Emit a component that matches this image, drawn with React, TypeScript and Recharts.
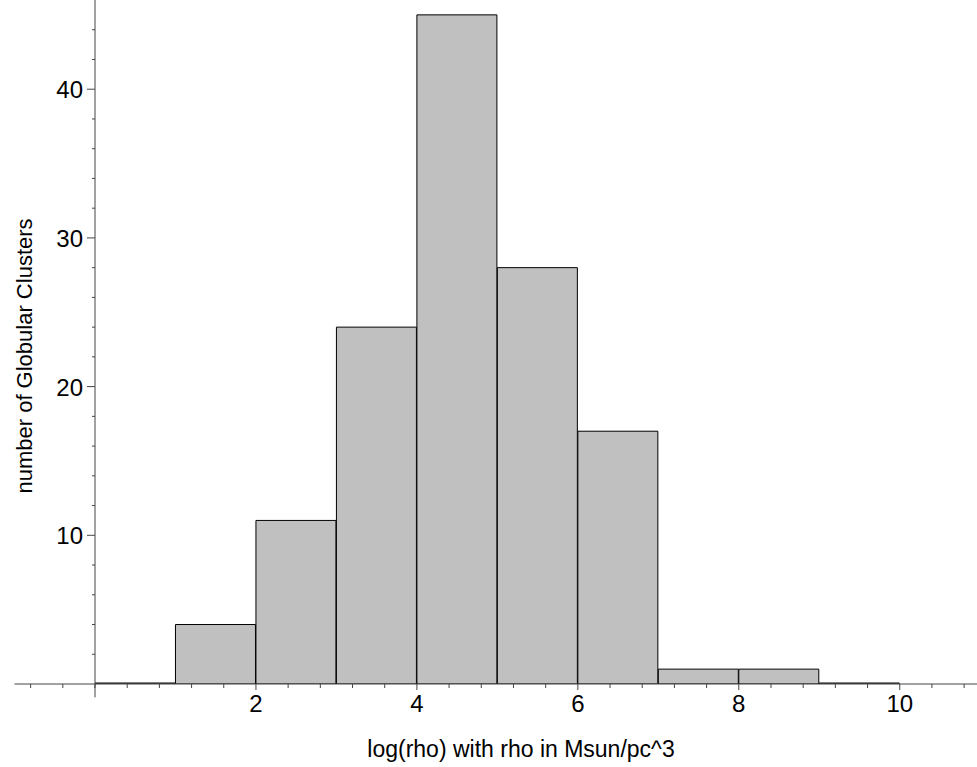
import { BarChart, Bar, XAxis, YAxis, ReferenceLine, Label } from "recharts";

// histogram bins: left edge of each bin, width 1
const BIN_START = [0, 1, 2, 3, 4, 5, 6, 7, 8, 9];
const COUNTS = [0, 4, 11, 24, 45, 28, 17, 1, 1, 0];

const X_TICKS = [
  -0.8, -0.4, 0, 0.4, 0.8, 1.2, 1.6, 2, 2.4, 2.8, 3.2, 3.6, 4, 4.4, 4.8, 5.2, 5.6, 6, 6.4, 6.8, 7.2, 7.6, 8, 8.4,
  8.8, 9.2, 9.6, 10, 10.4, 10.8,
];
const X_LABELS = [2, 4, 6, 8, 10];
const Y_TICKS = [2, 4, 6, 8, 10, 12, 14, 16, 18, 20, 22, 24, 26, 28, 30, 32, 34, 36, 38, 40, 42, 44];
const Y_LABELS = [10, 20, 30, 40];

const X_DOMAIN: [number, number] = [0, 10.96];
const X_AXIS_START = -1;
const Y_DOMAIN: [number, number] = [0, 46];
const Y_AXIS_BELOW = -0.9;

const data = BIN_START.map((s, i) => ({ x: s + 0.5, count: COUNTS[i] }));

const FONT = '"Liberation Sans", Arial, sans-serif';
const AXIS = "#444";

const isMajor = (v: number, list: number[]) => list.some((m) => Math.abs(m - v) < 1e-6);

function XTick(props: any) {
  const { x, y, payload } = props;
  const major = isMajor(payload.value, X_LABELS);
  return (
    <g>
      <line x1={x} x2={x} y1={y} y2={y + (major ? 6 : 4)} stroke={AXIS} strokeWidth={1} />
      {major && (
        <text x={x} y={y + 28} textAnchor="middle" fontSize={24} fontFamily={FONT} fill="#000">
          {payload.value}
        </text>
      )}
    </g>
  );
}

function YTick(props: any) {
  const { x, y, payload } = props;
  const major = isMajor(payload.value, Y_LABELS);
  return (
    <g>
      <line x1={x - (major ? 8 : 3)} x2={x} y1={y} y2={y} stroke={AXIS} strokeWidth={1} />
      {major && (
        <text x={x - 12} y={y + 9} textAnchor="end" fontSize={24} fontFamily={FONT} fill="#000">
          {payload.value}
        </text>
      )}
    </g>
  );
}

export default function App() {
  return (
    <div style={{ position: "absolute", left: 0, top: 0, width: 977, height: 767, background: "#fff", overflow: "hidden" }}>
      <BarChart width={977} height={767} data={data} margin={{ top: 0, right: 0, bottom: 0, left: 0 }} barCategoryGap={0}>
        <XAxis
          type="number"
          dataKey="x"
          domain={X_DOMAIN}
          allowDataOverflow
          ticks={X_TICKS}
          interval={0}
          tickSize={0}
          tickMargin={0}
          tickLine={false}
          axisLine={false}
          tick={<XTick />}
          height={83}
        >
          <Label
            content={() => (
              <text x={521} y={757} textAnchor="middle" fontSize={23} fontFamily={FONT} fill="#000">
                log(rho) with rho in Msun/pc^3
              </text>
            )}
          />
        </XAxis>
        <YAxis
          type="number"
          domain={Y_DOMAIN}
          allowDataOverflow
          ticks={Y_TICKS}
          interval={0}
          tickSize={0}
          tickMargin={0}
          tickLine={false}
          axisLine={false}
          tick={<YTick />}
          width={95}
        >
          <Label
            content={() => (
              <text
                x={24}
                y={356}
                transform="rotate(-90 24 356)"
                textAnchor="middle"
                dominantBaseline="central"
                fontSize={22}
                fontFamily={FONT}
                fill="#000"
              >
                number of Globular Clusters
              </text>
            )}
          />
        </YAxis>
        <Bar dataKey="count" fill="#c0c0c0" stroke="#000" strokeWidth={1} minPointSize={1} isAnimationActive={false} />
        <ReferenceLine
          segment={[
            { x: X_AXIS_START, y: 0 },
            { x: X_DOMAIN[1], y: 0 },
          ]}
          stroke={AXIS}
          strokeWidth={1}
          ifOverflow="visible"
        />
        <ReferenceLine
          segment={[
            { x: 0, y: Y_AXIS_BELOW },
            { x: 0, y: Y_DOMAIN[1] },
          ]}
          stroke={AXIS}
          strokeWidth={1}
          ifOverflow="visible"
        />
      </BarChart>
    </div>
  );
}
